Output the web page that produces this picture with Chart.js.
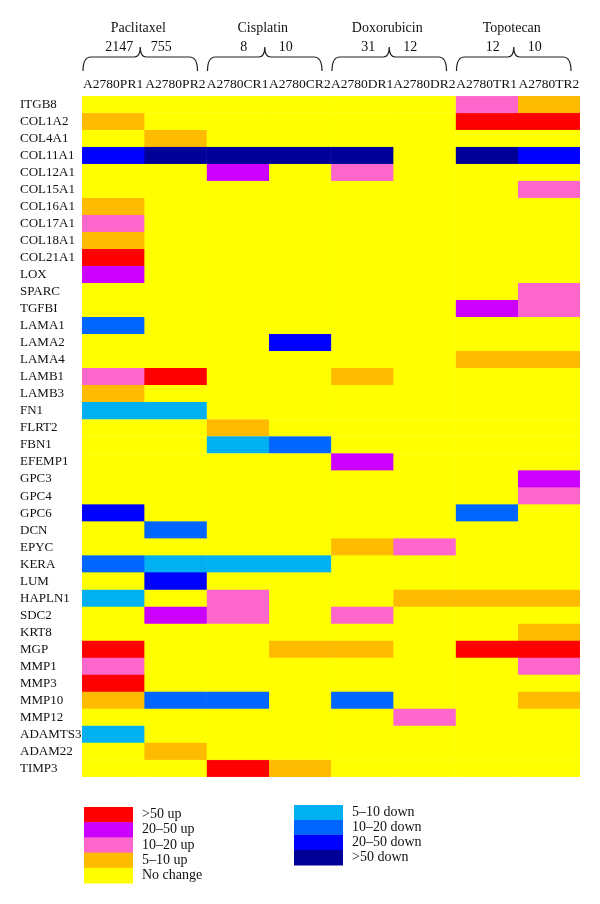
<!DOCTYPE html>
<html>
<head>
<meta charset="utf-8">
<script src="https://cdn.jsdelivr.net/npm/chart.js@4.4.1/dist/chart.umd.min.js"></script>
<style>
  body { margin: 0; background: #fff; }
  #wrap { width: 600px; height: 904px; }
</style>
</head>
<body>
<div id="wrap"><canvas id="chart"></canvas></div>
<script>
const genes = [
  'ITGB8', 'COL1A2', 'COL4A1', 'COL11A1', 'COL12A1', 'COL15A1', 'COL16A1', 'COL17A1',
  'COL18A1', 'COL21A1', 'LOX', 'SPARC', 'TGFBI', 'LAMA1', 'LAMA2', 'LAMA4', 'LAMB1',
  'LAMB3', 'FN1', 'FLRT2', 'FBN1', 'EFEMP1', 'GPC3', 'GPC4', 'GPC6', 'DCN', 'EPYC',
  'KERA', 'LUM', 'HAPLN1', 'SDC2', 'KRT8', 'MGP', 'MMP1', 'MMP3', 'MMP10', 'MMP12',
  'ADAMTS3', 'ADAM22', 'TIMP3'
];
const cellLines = ['A2780PR1', 'A2780PR2', 'A2780CR1', 'A2780CR2', 'A2780DR1', 'A2780DR2', 'A2780TR1', 'A2780TR2'];
const drugs = ['Paclitaxel', 'Cisplatin', 'Doxorubicin', 'Topotecan'];
const changedGenes = ['2147', '755', '8', '10', '31', '12', '12', '10'];

// fold change class: 4 >50 up, 3 20-50 up, 2 10-20 up, 1 5-10 up, 0 none, -1..-4 down
const PR1 = [0, 1, 0, -3, 0, 0, 1, 2, 1, 4, 3, 0, 0, -2, 0, 0, 2, 1, -1, 0, 0, 0, 0, 0, -3, 0, 0, -2, 0, -1, 0, 0, 4, 2, 4, 1, 0, -1, 0, 0];
const PR2 = [0, 0, 1, -4, 0, 0, 0, 0, 0, 0, 0, 0, 0, 0, 0, 0, 4, 0, -1, 0, 0, 0, 0, 0, 0, -2, 0, -1, -3, 0, 3, 0, 0, 0, 0, -2, 0, 0, 1, 0];
const CR1 = [0, 0, 0, -4, 3, 0, 0, 0, 0, 0, 0, 0, 0, 0, 0, 0, 0, 0, 0, 1, -1, 0, 0, 0, 0, 0, 0, -1, 0, 2, 2, 0, 0, 0, 0, -2, 0, 0, 0, 4];
const CR2 = [0, 0, 0, -4, 0, 0, 0, 0, 0, 0, 0, 0, 0, 0, -3, 0, 0, 0, 0, 0, -2, 0, 0, 0, 0, 0, 0, -1, 0, 0, 0, 0, 1, 0, 0, 0, 0, 0, 0, 1];
const DR1 = [0, 0, 0, -4, 2, 0, 0, 0, 0, 0, 0, 0, 0, 0, 0, 0, 1, 0, 0, 0, 0, 3, 0, 0, 0, 0, 1, 0, 0, 0, 2, 0, 1, 0, 0, -2, 0, 0, 0, 0];
const DR2 = [0, 0, 0, 0, 0, 0, 0, 0, 0, 0, 0, 0, 0, 0, 0, 0, 0, 0, 0, 0, 0, 0, 0, 0, 0, 0, 2, 0, 0, 1, 0, 0, 0, 0, 0, 0, 2, 0, 0, 0];
const TR1 = [2, 4, 0, -4, 0, 0, 0, 0, 0, 0, 0, 0, 3, 0, 0, 1, 0, 0, 0, 0, 0, 0, 0, 0, -2, 0, 0, 0, 0, 1, 0, 0, 4, 0, 0, 0, 0, 0, 0, 0];
const TR2 = [1, 4, 0, -3, 0, 2, 0, 0, 0, 0, 0, 2, 2, 0, 0, 1, 0, 0, 0, 0, 0, 0, 3, 2, 0, 0, 0, 0, 0, 1, 0, 1, 4, 2, 0, 1, 0, 0, 0, 0];
const levels = [PR1, PR2, CR1, CR2, DR1, DR2, TR1, TR2];

const upLabels = ['>50 up', '20\u201350 up', '10\u201320 up', '5\u201310 up', 'No change'];
const upColours = ['#ff0000', '#cc00ff', '#ff66cc', '#ffbb00', '#ffff00'];
const downLabels = ['5\u201310 down', '10\u201320 down', '20\u201350 down', '>50 down'];
const downColours = ['#00b0f0', '#0066ff', '#0000ff', '#000099'];

function colourFor(v) {
  if (v >= 0) return upColours[4 - v];
  return downColours[-v - 1];
}

const FONT = '"Liberation Serif", "DejaVu Serif", serif';

const headerPlugin = {
  id: 'header',
  afterDraw(chart) {
    const ctx = chart.ctx;
    const x = chart.scales.x;
    ctx.save();
    ctx.fillStyle = '#111';
    ctx.strokeStyle = '#222';
    ctx.lineWidth = 1.2;
    ctx.font = '14px ' + FONT;
    ctx.textAlign = 'center';
    ctx.textBaseline = 'alphabetic';
    drugs.forEach((d, g) => {
      const x0 = x.getPixelForValue(g * 2) + 1;
      const x1 = x.getPixelForValue(g * 2 + 2) - 9;
      const xm = (x0 + x1) / 2;
      ctx.fillText(d, xm - 2, 32);
      ctx.fillText(changedGenes[g * 2], xm - 21, 51);
      ctx.fillText(changedGenes[g * 2 + 1], xm + 21, 51);
      ctx.beginPath();
      ctx.moveTo(x0, 71);
      ctx.quadraticCurveTo(x0, 57, x0 + 8, 57);
      ctx.lineTo(xm - 6, 57);
      ctx.quadraticCurveTo(xm, 57, xm, 47);
      ctx.quadraticCurveTo(xm, 57, xm + 6, 57);
      ctx.lineTo(x1 - 8, 57);
      ctx.quadraticCurveTo(x1, 57, x1, 71);
      ctx.stroke();
    });

    // legend
    ctx.textAlign = 'left';
    ctx.textBaseline = 'middle';
    const bh = 15.2;
    upLabels.forEach((l, i) => {
      const y = 807 + i * bh;
      ctx.fillStyle = upColours[i];
      ctx.fillRect(84, y, 49, bh + 0.5);
      ctx.fillStyle = '#111';
      ctx.fillText(l, 142, y + bh / 2);
    });
    downLabels.forEach((l, i) => {
      const y = 805 + i * 15;
      ctx.fillStyle = downColours[i];
      ctx.fillRect(294, y, 49, 15.5);
      ctx.fillStyle = '#111';
      ctx.fillText(l, 352, y + 7.5);
    });
    ctx.restore();
  }
};

Chart.defaults.font.family = FONT;
Chart.defaults.color = '#111';

new Chart(document.getElementById('chart'), {
  type: 'bar',
  data: {
    labels: genes,
    datasets: levels.map((col, c) => ({
      label: cellLines[c],
      data: genes.map(() => [c, c + 1]),
      backgroundColor: col.map(colourFor),
      borderColor: col.map(colourFor),
      borderWidth: 0.5,
      borderSkipped: false,
      grouped: false,
      barPercentage: 1,
      categoryPercentage: 1
    }))
  },
  options: {
    indexAxis: 'y',
    responsive: true,
    maintainAspectRatio: false,
    animation: false,
    layout: { padding: { left: 20, right: 20, top: 74, bottom: 127 } },
    plugins: { legend: { display: false }, tooltip: { enabled: false } },
    scales: {
      x: { type: 'linear', min: 0, max: 8, display: false },
      x2: {
        type: 'category',
        axis: 'x',
        position: 'top',
        labels: cellLines,
        offset: true,
        grid: { display: false, drawTicks: false },
        border: { display: false },
        ticks: { font: { size: 13.5 }, color: '#111', padding: 3, maxRotation: 0, autoSkip: false },
        afterFit(scale) { scale.height = 22; }
      },
      y: {
        type: 'category',
        offset: true,
        grid: { display: false, drawTicks: false },
        border: { display: false },
        ticks: { font: { size: 13 }, color: '#111', crossAlign: 'far', padding: 0, autoSkip: false },
        afterFit(scale) { scale.width = 62; }
      }
    }
  },
  plugins: [headerPlugin]
});
</script>
</body>
</html>
